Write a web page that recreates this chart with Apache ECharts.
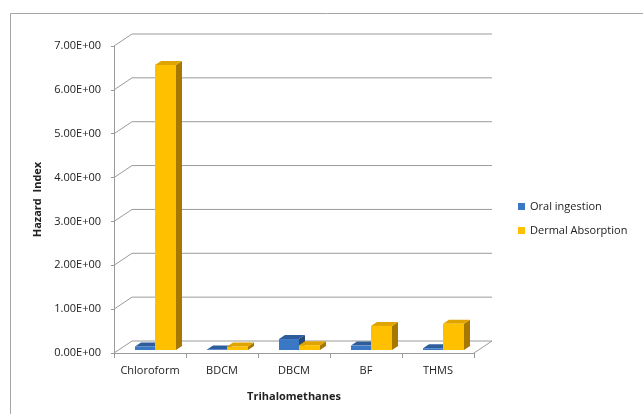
<!DOCTYPE html>
<html>
<head>
<meta charset="utf-8">
<script src="https://cdn.jsdelivr.net/npm/echarts@6/dist/echarts.min.js"></script>
<style>
  html, body { margin: 0; padding: 0; background: #fff; }
  #chart { width: 643px; height: 414px; }
</style>
</head>
<body>
<div id="chart"></div>
<script>
const categories = ["Chloroform", "BDCM", "DBCM", "BF", "THMS"];
const oralIngestion = [0.08, 0.01, 0.25, 0.1, 0.04];
const dermalAbsorption = [6.5, 0.08, 0.11, 0.55, 0.6];
const yTicks = [0, 1, 2, 3, 4, 5, 6, 7];

const FONT = "'Open Sans', 'Noto Sans', sans-serif";
const GRID_COLOR = "#9a9a9a";
// back wall offset of the pseudo-3d frame
const WALL_DX = 18;
const WALL_DY = 12;

function frameItem(params, api) {
  const cs = params.coordSys;
  const v = api.value(1);
  const y = api.coord([0, v])[1];
  const children = [{
    type: "polyline",
    shape: { points: [[cs.x, y], [cs.x + WALL_DX, y - WALL_DY], [cs.x + cs.width + WALL_DX, y - WALL_DY]] },
    style: { stroke: GRID_COLOR, lineWidth: 1, fill: null },
  }];
  if (v === 0) {
    children.push({
      type: "line",
      shape: { x1: cs.x + cs.width, y1: y, x2: cs.x + cs.width + WALL_DX, y2: y - WALL_DY },
      style: { stroke: GRID_COLOR, lineWidth: 1 },
    });
  }
  return { type: "group", children };
}

function barRenderer(offset, width, colors) {
  return function (params, api) {
    const idx = api.value(0);
    const top = api.coord([idx, api.value(1)]);
    const base = api.coord([idx, 0]);
    const lift = 3;
    const dx = 6, dy = 4;
    const x0 = top[0] + offset;
    const yTop = top[1] - lift;
    const yBase = base[1] - lift;
    const h = Math.max(yBase - yTop, 0.6);
    const t = yBase - h;
    return {
      type: "group",
      children: [
        {
          type: "polygon",
          shape: { points: [[x0 + width, t], [x0 + width + dx, t - dy], [x0 + width + dx, yBase - dy], [x0 + width, yBase]] },
          style: { fill: colors.side },
        },
        {
          type: "polygon",
          shape: { points: [[x0, t], [x0 + width, t], [x0 + width + dx, t - dy], [x0 + dx, t - dy]] },
          style: { fill: colors.top },
        },
        {
          type: "rect",
          shape: { x: x0, y: t, width: width, height: h },
          style: { fill: colors.front },
        },
      ],
    };
  };
}

const chart = echarts.init(document.getElementById("chart"), null, { renderer: "canvas" });

chart.setOption({
  animation: false,
  textStyle: { fontFamily: FONT },
  graphic: [{
    type: "rect",
    shape: { x: 10.5, y: 13.5, width: 700, height: 500 },
    style: { fill: null, stroke: "#a6a6a6", lineWidth: 1 },
    silent: true,
  }],
  legend: {
    orient: "vertical",
    left: 513,
    top: 196,
    itemWidth: 7,
    itemHeight: 7,
    itemGap: 13,
    icon: "rect",
    data: ["Oral ingestion", "Dermal Absorption"],
    textStyle: { fontSize: 11, color: "#222", fontFamily: FONT },
  },
  grid: { left: 114, right: 169, top: 46, bottom: 61 },
  xAxis: {
    type: "category",
    data: categories,
    name: "Trihalomethanes",
    nameLocation: "middle",
    nameGap: 38,
    nameTextStyle: { fontSize: 11, fontWeight: "bold", color: "#222", fontFamily: FONT },
    axisLine: { lineStyle: { color: GRID_COLOR } },
    axisTick: { show: true, length: 5, lineStyle: { color: GRID_COLOR } },
    axisLabel: { interval: 0, fontSize: 11, color: "#222", margin: 12, fontFamily: FONT },
  },
  yAxis: {
    type: "value",
    min: 0,
    max: 7,
    interval: 1,
    name: "Hazard  Index",
    nameLocation: "middle",
    nameGap: 70,
    nameRotate: 90,
    nameTextStyle: { fontSize: 11, fontWeight: "bold", color: "#222", fontFamily: FONT },
    axisLine: { show: true, lineStyle: { color: GRID_COLOR } },
    axisTick: { show: true, length: 3, lineStyle: { color: GRID_COLOR } },
    splitLine: { show: false },
    axisLabel: {
      fontSize: 11,
      color: "#222",
      margin: 13,
      fontFamily: FONT,
      formatter: (v) => v.toFixed(2) + "E+00",
    },
  },
  series: [
    {
      name: "frame",
      type: "custom",
      silent: true,
      z: 1,
      renderItem: frameItem,
      data: yTicks.map((v) => [0, v]),
    },
    {
      name: "Oral ingestion",
      type: "custom",
      z: 2,
      itemStyle: { color: "#3a78c6" },
      renderItem: barRenderer(-15, 20, { front: "#3a78c6", top: "#2d5e9b", side: "#25497a" }),
      data: oralIngestion.map((v, i) => [i, v]),
    },
    {
      name: "Dermal Absorption",
      type: "custom",
      z: 3,
      itemStyle: { color: "#ffc000" },
      renderItem: barRenderer(5, 21, { front: "#ffc000", top: "#e0a400", side: "#a67800" }),
      data: dermalAbsorption.map((v, i) => [i, v]),
    },
  ],
});
</script>
</body>
</html>
